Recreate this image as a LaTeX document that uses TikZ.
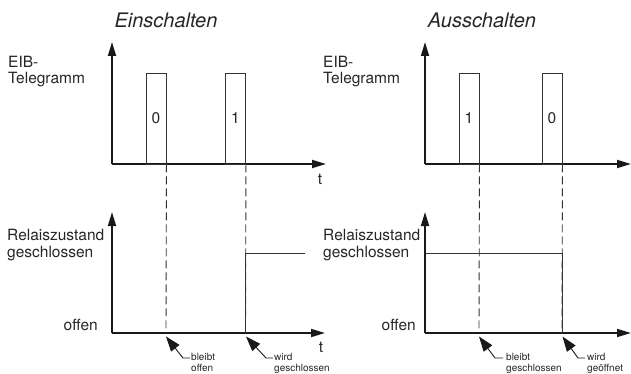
\documentclass[tikz,border=0pt]{standalone}
\usepackage{fontspec}
\setmainfont{TeX Gyre Heros}
\usetikzlibrary{arrows.meta}
\begin{document}
\begin{tikzpicture}[x=1pt,y=-1pt,
  every node/.style={text=black!85},
  axis/.style={draw=black!90,line width=1.8pt,-{Triangle[length=14pt,width=8pt]}},
  sigline/.style={draw=black!80,line width=0.9pt},
  dashline/.style={draw=black!80,line width=0.9pt,dash pattern=on 8pt off 4pt},
  pulse/.style={draw=black!80,line width=0.9pt,minimum width=20pt,minimum height=91pt,inner sep=0pt,font=\fontsize{15.5}{18}\selectfont},
  lbl/.style={inner sep=0pt,font=\fontsize{15.5}{16}\selectfont,anchor=base west},
  lblr/.style={inner sep=0pt,font=\fontsize{15.5}{16}\selectfont,anchor=base east},
  ttl/.style={inner sep=0pt,font=\fontsize{20}{24}\selectfont\itshape,anchor=base},
  small/.style={inner sep=0pt,font=\fontsize{10}{11}\selectfont,align=left,anchor=north west},
  note/.style={draw=black!90,line width=0.9pt,{Triangle[length=15pt,width=10.5pt]}-}
]
\useasboundingbox (0,0) rectangle (631,374);

% titles
\node[ttl] (t1) at (166,28) {Einschalten};
\node[ttl] (t2) at (482,28) {Ausschalten};

% ---------------- left panel ----------------
\coordinate (LTO) at (112,164);
\coordinate (LTY) at (112,42);
\coordinate (LTX) at (326,164);
\draw[axis] (LTO) -- (LTY);
\draw[axis] (LTO) -- (LTX);
\node[lbl] (le1) at (8,68) {EIB-};
\node[lbl] (le2) at (8,84) {Telegramm};
\node[lbl,anchor=base] (lt1) at (320,184) {t};
\node[pulse] (LP1) at (156,118.5) {0};
\node[pulse] (LP2) at (235.5,118.5) {1};

\coordinate (LBO) at (112,333);
\coordinate (LBY) at (112,212);
\coordinate (LBX) at (325,333);
\draw[axis] (LBO) -- (LBY);
\draw[axis] (LBO) -- (LBX);
\node[lbl] (lr1) at (7,240) {Relaiszustand};
\node[lbl] (lr2) at (7,257) {geschlossen};
\node[lblr] (lof) at (98,330) {offen};
\node[lbl,anchor=base] (lt2) at (321,352) {t};

\coordinate (LD1) at (166,333);
\coordinate (LD2) at (245.5,333);
\draw[dashline] (LP1.south east) -- (LD1);
\draw[dashline] (LP2.south east) -- (LD2);
\coordinate (LC1) at (245.5,253);
\coordinate (LC2) at (305,253);
\draw[sigline] (LD2) -- (LC1) -- (LC2);

\coordinate (LA1) at (166,336.5);
\coordinate (LA1b) at (183,358);
\coordinate (LA1e) at (190,358);
\draw[note] (LA1) -- (LA1b) -- (LA1e);
\node[small] (ln1) at (191,353) {bleibt\\offen};
\coordinate (LA2) at (246,336.5);
\coordinate (LA2b) at (266,358);
\coordinate (LA2e) at (273,358);
\draw[note] (LA2) -- (LA2b) -- (LA2e);
\node[small] (ln2) at (274,353) {wird\\geschlossen};

% ---------------- right panel ----------------
\coordinate (RTO) at (425,164);
\coordinate (RTY) at (425,42);
\coordinate (RTX) at (631,164);
\draw[axis] (RTO) -- (RTY);
\draw[axis] (RTO) -- (RTX);
\node[lbl] (re1) at (323,68) {EIB-};
\node[lbl] (re2) at (323,84) {Telegramm};
\node[pulse] (RP1) at (469,118.5) {1};
\node[pulse] (RP2) at (552,118.5) {0};

\coordinate (RBO) at (425,333);
\coordinate (RBY) at (425,212);
\coordinate (RBX) at (631,333);
\draw[axis] (RBO) -- (RBY);
\draw[axis] (RBO) -- (RBX);
\node[lbl] (rr1) at (323,240) {Relaiszustand};
\node[lbl] (rr2) at (323,257) {geschlossen};
\node[lblr] (rof) at (416,330) {offen};

\coordinate (RD1) at (479,333);
\coordinate (RD2) at (562,333);
\draw[dashline] (RP1.south east) -- (RD1);
\draw[dashline] (RP2.south east) -- (RD2);
\coordinate (RC0) at (425,253);
\coordinate (RC1) at (562,253);
\draw[sigline] (RC0) -- (RC1) -- (RD2);

\coordinate (RA1) at (479,336.5);
\coordinate (RA1b) at (495,358);
\coordinate (RA1e) at (503,358);
\draw[note] (RA1) -- (RA1b) -- (RA1e);
\node[small] (rn1) at (506,353) {bleibt\\geschlossen};
\coordinate (RA2) at (562.5,336.5);
\coordinate (RA2b) at (578,358);
\coordinate (RA2e) at (585,358);
\draw[note] (RA2) -- (RA2b) -- (RA2e);
\node[small] (rn2) at (587,353) {wird\\geöffnet};
\end{tikzpicture}
\end{document}
